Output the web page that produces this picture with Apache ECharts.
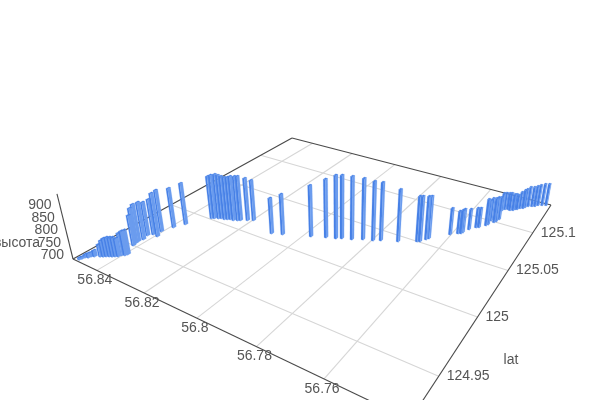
<!DOCTYPE html><html><head><meta charset="utf-8"><style>html,body{margin:0;background:#fff}#c{width:600px;height:400px}</style>
<script src="https://cdn.jsdelivr.net/npm/echarts@6/dist/echarts.min.js"></script></head><body><div id="c"></div><script>
const lonTicks=[56.84,56.82,56.8,56.78,56.76];
const latTicks=[125.1,125.05,125,124.95];
const zTicks=[700,750,800,850,900];
const lons=[56.8492,56.8489,56.8486,56.8478,56.8475,56.8467,56.8452,56.8444,56.8437,56.8429,56.8421,56.8414,56.8406,56.8402,56.8394,56.8391,56.8416,56.8420,56.8421,56.8417,56.8424,
56.8413,56.8393,56.8405,56.8390,56.8371,56.8325,56.8317,56.8305,56.8297,56.8284,56.8275,56.8267,56.8254,56.8242,56.8234,56.8214,56.8197,56.8095,56.8061,56.7977,56.7933,
56.7903,56.7887,56.7857,56.7827,56.7797,56.7776,56.7727,56.7676,56.7668,56.7657,56.7652,56.7604,56.7585,56.7577,56.7574,56.7564,56.7549,56.7541,56.7526,56.7522,56.7523,
56.7510,56.7506,56.7502,56.7514,56.7508,56.7499,56.7491,56.7482,56.7478,56.7472,56.7466,56.7457,56.7453,56.7446,56.7435,56.7426,56.7419,56.7407,56.7395];
const lats=[124.9223,124.9239,124.9256,124.9266,124.9283,124.9293,124.9312,124.9322,124.9332,124.9342,124.9351,124.9361,124.9371,124.9392,124.9402,124.9418,124.9504,124.9527,124.9553,124.9587,124.9634,
124.9663,124.9660,124.9717,124.9795,124.9866,125.0018,125.0029,125.0043,125.0054,125.0055,125.0066,125.0077,125.0077,125.0092,125.0103,125.0128,125.0150,125.0084,125.0112,125.0190,125.0232,
125.0256,125.0277,125.0301,125.0339,125.0363,125.0390,125.0438,125.0503,125.0513,125.0556,125.0577,125.0695,125.0734,125.0745,125.0763,125.0820,125.0869,125.0880,125.0929,125.0949,125.1010,
125.0996,125.1016,125.1053,125.1184,125.1209,125.1220,125.1214,125.1225,125.1246,125.1254,125.1279,125.1291,125.1312,125.1338,125.1353,125.1365,125.1391,125.1406,125.1421];
const heights=[692,692,697,701,701,709,734,750,758,762,762,762,758,775,783,783,809,830,838,839,824,
832,864,858,851,860,866,871,875,871,870,866,866,874,874,874,866,857,833,853,896,924,
943,943,942,934,926,922,898,871,871,863,860,795,779,783,783,771,767,767,797,789,781,
789,789,781,761,757,757,761,756,752,748,757,766,766,771,771,775,775,780,780];
const C={L:[73,259],F:[410,420],R:[551,205],B:[292,138],V:[340,1344]};
const lonMax=56.851,lonMin=56.738,latMin=124.92,latMax=125.144,zMin=684,zMax=940;
const [x0,y0]=C.L,[x1,y1]=C.F,[x2,y2]=C.R,[x3,y3]=C.B;
const sx=x0-x1+x2-x3,sy=y0-y1+y2-y3,dx1=x1-x2,dx2=x3-x2,dy1=y1-y2,dy2=y3-y2,det=dx1*dy2-dx2*dy1;
const g=(sx*dy2-dx2*sy)/det,h=(dx1*sy-sx*dy1)/det,a=x1-x0+g*x1,b=x3-x0+h*x3,c=x0,d=y1-y0+g*y1,e=y3-y0+h*y3,f=y0;
const k=(57-73)/(C.V[0]-57);
function proj(u,v,t){const X=a*u+b*v+c+t*k*C.V[0],Y=d*u+e*v+f+t*k*C.V[1],W=g*u+h*v+1+t*k;return [X/W,Y/W];}
function U(lon){return (lonMax-lon)/(lonMax-lonMin)}function Vv(lat){return (lat-latMin)/(latMax-latMin)}function T(z){return (z-zMin)/(zMax-zMin)}
const dark='#4a4a4a',gridC='#d6d6d6',txt='#555',font='14px Arial, "Liberation Sans", sans-serif';
function line(p,q,col,w){return {type:'line',shape:{x1:p[0],y1:p[1],x2:q[0],y2:q[1]},style:{stroke:col,lineWidth:w||1.1},silent:true};}
function text(s,p,al,dx,dy){return {type:'text',style:{text:s,x:p[0]+dx,y:p[1]+dy,fill:txt,font:font,align:al,verticalAlign:'middle'},silent:true,z2:50};}
const du=0.0034,dv=0.0056;
function bar(par,api){const u=U(api.value(0)),v=Vv(api.value(1)),t=T(api.value(2));
 const z2=Math.round((u-v)*1000)+1000;
 const pg=(pts,col)=>({type:'polygon',shape:{points:pts},style:{fill:col,stroke:col,lineWidth:0.2},z2,silent:true});
 const P=(su,sv,tt)=>proj(u+su*du,v+sv*dv,tt);
 return {type:'group',children:[
  pg([P(-1,-1,0),P(1,-1,0),P(1,-1,t),P(-1,-1,t)],'#4680e6'),
  pg([P(1,-1,0),P(1,1,0),P(1,1,t),P(1,-1,t)],'#6b9cee'),
  pg([P(-1,-1,t),P(1,-1,t),P(1,1,t),P(-1,1,t)],'#4a84e8')]};}
const chart=echarts.init(document.getElementById('c'),null,{renderer:'canvas'});
const base={type:'custom',coordinateSystem:'none',silent:true,animation:false,clip:false};
const rows=lons.map((x,i)=>[x,lats[i],heights[i]]);
chart.setOption({animation:false,backgroundColor:'#fff',series:[
 {...base,z:1,data:lonTicks.map(x=>[x]),renderItem:(p,api)=>{const u=U(api.value(0));return line(proj(u,0,0),proj(u,1,0),gridC);}},
 {...base,z:1,data:latTicks.map(x=>[x]),renderItem:(p,api)=>{const v=Vv(api.value(0));return line(proj(0,v,0),proj(1,v,0),gridC);}},
 {...base,z:2,data:[[0]],renderItem:()=>({type:'group',children:[line(proj(0,0,0),proj(1,0,0),dark),line(proj(1,0,0),proj(1,1,0),dark),line(proj(1,1,0),proj(0,1,0),dark),line(proj(0,1,0),proj(0,0,0),dark),line(proj(0,0,0),proj(0,0,1),dark)]})},
 {...base,z:3,data:rows,dimensions:['lon','lat','h'],renderItem:bar},
 {...base,z:4,data:lonTicks.map(x=>[x]),renderItem:(p,api)=>{const x=api.value(0);return text(String(x),proj(U(x),0,0),'center',-2,10);}},
 {...base,z:4,data:latTicks.map(x=>[x]),renderItem:(p,api)=>{const x=api.value(0);return text(String(x),proj(1,Vv(x),0),'left',8,0);}},
 {...base,z:4,data:zTicks.map(x=>[x]),renderItem:(p,api)=>{const x=api.value(0);return text(String(x),proj(0,0,T(x)),'right',-8,0);}},
 {...base,z:4,data:[['lat']],renderItem:()=>({type:'group',children:[{type:'text',style:{text:'lat',x:511,y:360,fill:txt,font,align:'center',verticalAlign:'middle'}},{type:'text',style:{text:'высота',x:17,y:243,fill:txt,font,align:'center',verticalAlign:'middle'}}]})}
]});
</script></body></html>
